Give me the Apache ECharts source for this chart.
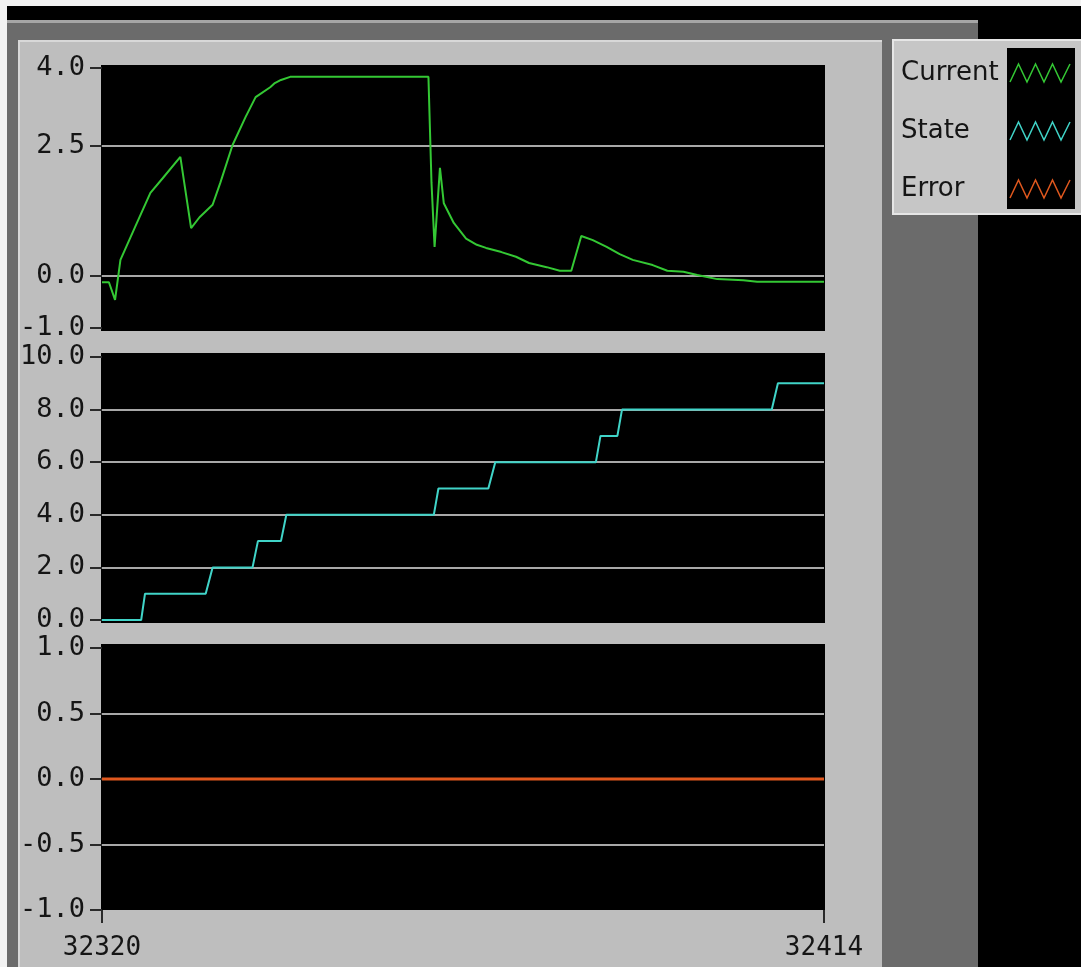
<!DOCTYPE html>
<html><head><meta charset="utf-8">
<script src="https://cdn.jsdelivr.net/npm/echarts@6/dist/echarts.min.js"></script>
<style>html,body{margin:0;padding:0;background:#000;}#c{width:1081px;height:967px;}</style>
</head><body><div id="c"></div>
<script>
// ---- data ----
const seriesNames = ['Current', 'State', 'Error'];
const xTicks = [32320, 32414];
const currentTicks = [-1, 0, 2.5, 4];
const stateTicks = [0, 2, 4, 6, 8, 10];
const errorTicks = [-1, -0.5, 0, 0.5, 1];

const currentX = [32320, 32320.9, 32321.7, 32322.4, 32324.3, 32326.3, 32327.9, 32330.2, 32331.6, 32332.7,
  32334.4, 32335.4, 32337.0, 32338.7, 32340.0, 32341.9, 32342.5, 32343.3, 32344.5, 32362.5,
  32362.9, 32363.3, 32364.0, 32364.5, 32365.8, 32367.4, 32368.8, 32370.0, 32372.0, 32373.9,
  32375.6, 32377.9, 32379.6, 32381.1, 32382.4, 32383.9, 32385.7, 32387.4, 32389.1, 32391.7,
  32393.6, 32395.7, 32397.5, 32400.1, 32403.5, 32405.3, 32414];
const currentY = [-0.12, -0.12, -0.46, 0.31, 0.94, 1.6, 1.88, 2.29, 0.92, 1.13,
  1.37, 1.79, 2.52, 3.06, 3.44, 3.63, 3.71, 3.77, 3.83, 3.83,
  1.79, 0.56, 2.08, 1.4, 1.02, 0.72, 0.6, 0.54, 0.46, 0.37,
  0.25, 0.17, 0.1, 0.1, 0.77, 0.69, 0.56, 0.42, 0.31, 0.21,
  0.1, 0.08, 0.02, -0.06, -0.08, -0.11, -0.11];

const stateX = [32320, 32325.1, 32325.6, 32333.5, 32334.4, 32339.6, 32340.3, 32343.3, 32344.0, 32363.2,
  32363.8, 32370.3, 32371.2, 32384.3, 32384.9, 32387.1, 32387.7, 32407.2, 32408.0, 32414];
const stateY = [0, 0, 1, 1, 2, 2, 3, 3, 4, 4, 5, 5, 6, 6, 7, 7, 8, 8, 9, 9];

const errorX = [32320, 32414];
const errorY = [0, 0];

// ---- styles ----
const C_CUR = '#34c834', C_STATE = '#40d4c8', C_ERR = '#e0581e';
const GRIDLINE = '#a8a8a8', TXT = '#151515', TICK = '#2a2a2a';
const PANEL = '#bebebe', DARK = '#6b6b6b';
const NUMFONT = 'DejaVu Sans Mono';
const zip = (xs, ys) => xs.map((x, i) => [x, ys[i]]);
const fmt = v => Number(v).toFixed(1);
const zig = 'path://M0,18 L8.5,0 L17,18 L25.5,0 L34,18 L42.5,0 L51,18 L60,0';

function yAxis(idx, min, max, ticks) {
  return {
    type: 'value', gridIndex: idx, min: min, max: max,
    axisLine: {show: false, onZero: false},
    axisTick: {show: true, customValues: ticks, length: 12, lineStyle: {color: TICK, width: 2}},
    axisLabel: {customValues: ticks, formatter: fmt, margin: 17, color: TXT,
      fontFamily: NUMFONT, fontSize: 27},
    splitLine: {show: true, showMinLine: false, showMaxLine: false,
      lineStyle: {color: GRIDLINE, width: 2}}
  };
}
function xAxis(idx, show) {
  return {
    type: 'value', gridIndex: idx, min: xTicks[0], max: xTicks[xTicks.length - 1],
    show: show, position: 'bottom',
    axisLine: {show: false, onZero: false},
    axisTick: {show: show, customValues: xTicks, length: 13, lineStyle: {color: TICK, width: 2}},
    axisLabel: {show: show, customValues: xTicks, margin: 25, color: TXT,
      formatter: v => String(v), fontFamily: NUMFONT, fontSize: 26},
    splitLine: {show: false}
  };
}

const chart = echarts.init(document.getElementById('c'), null, {renderer: 'canvas'});
chart.setOption({
  backgroundColor: '#000',
  animation: false,
  graphic: [
    {type: 'rect', z: -10, shape: {x: 0, y: 0, width: 1081, height: 6}, style: {fill: '#f2f2f2'}},
    {type: 'rect', z: -10, shape: {x: 0, y: 0, width: 7, height: 967}, style: {fill: '#f2f2f2'}},
    {type: 'rect', z: -10, shape: {x: 7, y: 20, width: 971, height: 3}, style: {fill: '#a6a6a6'}},
    {type: 'rect', z: -10, shape: {x: 7, y: 23, width: 971, height: 944}, style: {fill: DARK}},
    {type: 'rect', z: -9, shape: {x: 18, y: 40, width: 864, height: 927}, style: {fill: PANEL}},
    {type: 'rect', z: -9, shape: {x: 18, y: 40, width: 864, height: 2}, style: {fill: '#d8d8d8'}},
    {type: 'rect', z: -9, shape: {x: 18, y: 40, width: 2, height: 927}, style: {fill: '#d8d8d8'}},
    {type: 'rect', z: -8, shape: {x: 101, y: 65, width: 724, height: 266}, style: {fill: '#000'}},
    {type: 'rect', z: -8, shape: {x: 101, y: 353, width: 724, height: 270}, style: {fill: '#000'}},
    {type: 'rect', z: -8, shape: {x: 101, y: 644, width: 724, height: 266}, style: {fill: '#000'}},
    {type: 'rect', z: 3, shape: {x: 893, y: 40, width: 200, height: 174},
      style: {fill: '#c6c6c6', stroke: '#e6e6e6', lineWidth: 2}},
    {type: 'rect', z: 3, shape: {x: 1007, y: 48, width: 68, height: 161}, style: {fill: '#000'}}
  ],
  legend: {
    orient: 'vertical', left: 901, top: 60, align: 'right', padding: 0,
    itemWidth: 60, itemHeight: 18, itemGap: 32, selectedMode: false,
    formatter: '{a|{name}}',
    textStyle: {fontFamily: 'DejaVu Sans', fontSize: 26, color: TXT,
      rich: {a: {width: 104, align: 'left', fontFamily: 'DejaVu Sans', fontSize: 26, color: TXT}}},
    data: [
      {name: seriesNames[0], icon: zig, itemStyle: {color: 'transparent', borderColor: C_CUR, borderWidth: 1.5}},
      {name: seriesNames[1], icon: zig, itemStyle: {color: 'transparent', borderColor: C_STATE, borderWidth: 1.5}},
      {name: seriesNames[2], icon: zig, itemStyle: {color: 'transparent', borderColor: C_ERR, borderWidth: 1.5}}
    ]
  },
  grid: [
    {left: 102, top: 68, width: 722, height: 260},
    {left: 102, top: 357, width: 722, height: 263},
    {left: 102, top: 648, width: 722, height: 262}
  ],
  xAxis: [xAxis(0, false), xAxis(1, false), xAxis(2, true)],
  yAxis: [
    yAxis(0, -1, 4, currentTicks),
    yAxis(1, 0, 10, stateTicks),
    yAxis(2, -1, 1, errorTicks)
  ],
  series: [
    {name: seriesNames[0], type: 'line', xAxisIndex: 0, yAxisIndex: 0, data: zip(currentX, currentY),
      symbol: 'none', lineStyle: {color: C_CUR, width: 2}, itemStyle: {color: C_CUR}, z: 5},
    {name: seriesNames[1], type: 'line', xAxisIndex: 1, yAxisIndex: 1, data: zip(stateX, stateY),
      symbol: 'none', lineStyle: {color: C_STATE, width: 2}, itemStyle: {color: C_STATE}, z: 5},
    {name: seriesNames[2], type: 'line', xAxisIndex: 2, yAxisIndex: 2, data: zip(errorX, errorY),
      symbol: 'none', lineStyle: {color: C_ERR, width: 3}, itemStyle: {color: C_ERR}, z: 5}
  ]
});
</script></body></html>
